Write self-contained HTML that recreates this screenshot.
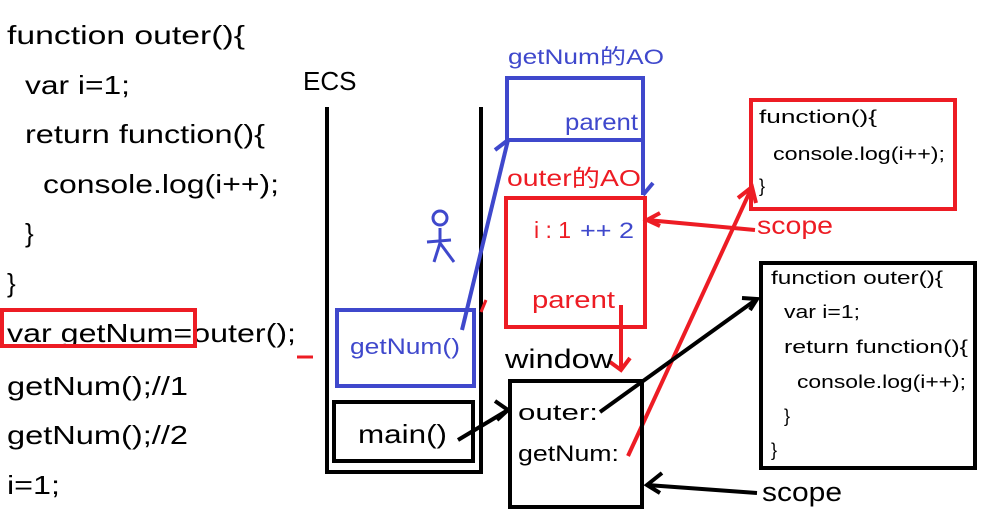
<!DOCTYPE html>
<html><head><meta charset="utf-8"><style>
html,body{margin:0;padding:0;background:#fff;width:1008px;height:516px;overflow:hidden}
svg{display:block}
text{font-family:"Liberation Sans","Noto Sans CJK SC",sans-serif}
</style></head><body>
<svg width="1008" height="516" viewBox="0 0 1008 516">
<g font-size="26" fill="#000" lengthAdjust="spacingAndGlyphs">
<text x="7" y="44" textLength="238" lengthAdjust="spacingAndGlyphs">function outer(){</text>
<text x="25" y="94" textLength="105" lengthAdjust="spacingAndGlyphs">var i=1;</text>
<text x="25" y="143" textLength="240" lengthAdjust="spacingAndGlyphs">return function(){</text>
<text x="43" y="193" textLength="236" lengthAdjust="spacingAndGlyphs">console.log(i++);</text>
<text x="25" y="242">}</text>
<text x="7" y="292">}</text>
<text x="7" y="342" textLength="289" lengthAdjust="spacingAndGlyphs">var getNum=outer();</text>
<text x="7" y="395" textLength="181" lengthAdjust="spacingAndGlyphs">getNum();//1</text>
<text x="7" y="444" textLength="181" lengthAdjust="spacingAndGlyphs">getNum();//2</text>
<text x="7" y="494" textLength="53" lengthAdjust="spacingAndGlyphs">i=1;</text>
</g>
<rect x="2" y="310" width="193" height="36" fill="none" stroke="#ed1c24" stroke-width="4"/>
<line x1="297" y1="357" x2="313" y2="357" stroke="#ed1c24" stroke-width="3"/>

<text x="303" y="90" font-size="26">ECS</text>
<path d="M327 107 V472 H481 V107" fill="none" stroke="#000" stroke-width="4"/>
<rect x="337" y="310" width="137" height="76" fill="none" stroke="#3f48cc" stroke-width="4"/>
<text x="350" y="354" font-size="22" fill="#3f48cc" textLength="110" lengthAdjust="spacingAndGlyphs">getNum()</text>
<rect x="334" y="402" width="139" height="59" fill="none" stroke="#000" stroke-width="4"/>
<text x="358" y="443" font-size="26" textLength="89" lengthAdjust="spacingAndGlyphs">main()</text>

<g stroke="#3f48cc" stroke-width="3" fill="none">
<circle cx="440" cy="218" r="7"/>
<line x1="427" y1="242" x2="451" y2="240"/>
<line x1="440" y1="228" x2="440" y2="243"/>
<line x1="440" y1="243" x2="434" y2="262"/>
<line x1="440" y1="243" x2="454" y2="262"/>
</g>

<g stroke="#3f48cc" stroke-width="4" fill="none">
<line x1="462" y1="330" x2="508" y2="140"/>
<line x1="508" y1="140" x2="495" y2="150"/>
<line x1="643" y1="140" x2="643" y2="195"/>
<line x1="643" y1="195" x2="653" y2="183"/>
</g>
<text x="508" y="64" font-size="21" fill="#3f48cc" textLength="156" lengthAdjust="spacingAndGlyphs">getNum的AO</text>
<rect x="507" y="78" width="136" height="62" fill="none" stroke="#3f48cc" stroke-width="4"/>
<text x="565" y="130" font-size="23" fill="#3f48cc" textLength="73" lengthAdjust="spacingAndGlyphs">parent</text>

<text x="507" y="186" font-size="23" fill="#ed1c24" textLength="134" lengthAdjust="spacingAndGlyphs">outer的AO</text>
<rect x="506" y="198" width="139" height="129" fill="none" stroke="#ed1c24" stroke-width="4"/>
<text x="534" y="238" font-size="23" fill="#ed1c24">i : 1</text>
<text x="580" y="238" font-size="22" fill="#3f48cc" textLength="54" lengthAdjust="spacingAndGlyphs">++ 2</text>
<text x="532" y="308" font-size="24" fill="#ed1c24" textLength="83" lengthAdjust="spacingAndGlyphs">parent</text>
<line x1="481" y1="312" x2="486" y2="300" stroke="#ed1c24" stroke-width="3"/>
<g stroke="#ed1c24" stroke-width="4" fill="none">
<line x1="621" y1="305" x2="621" y2="370"/>
<path d="M610 362 L621 370 L630 358"/>
<line x1="628" y1="456" x2="752" y2="187"/>
<path d="M738 198 L752 187 L756 203"/>
<line x1="755" y1="230" x2="647" y2="220"/>
<path d="M660 213 L647 220 L660 226"/>
</g>

<text x="505" y="368" font-size="27" textLength="108" lengthAdjust="spacingAndGlyphs">window</text>
<rect x="510" y="381" width="132" height="126" fill="none" stroke="#000" stroke-width="4"/>
<text x="518" y="420" font-size="22" textLength="80" lengthAdjust="spacingAndGlyphs">outer:</text>
<text x="518" y="461" font-size="22" textLength="101" lengthAdjust="spacingAndGlyphs">getNum:</text>
<g stroke="#000" stroke-width="4" fill="none">
<line x1="458" y1="440" x2="508" y2="410"/>
<path d="M495 401 L508 410 L497 420"/>
<line x1="600" y1="412" x2="757" y2="299"/>
<path d="M742 298 L757 299 L750 310"/>
<line x1="757" y1="493" x2="647" y2="485"/>
<path d="M662 473 L647 485 L660 493"/>
</g>

<rect x="751" y="100" width="204" height="109" fill="none" stroke="#ed1c24" stroke-width="4"/>
<g font-size="18"><text x="759" y="123" textLength="118" lengthAdjust="spacingAndGlyphs">function(){</text><text x="773" y="160" textLength="172" lengthAdjust="spacingAndGlyphs">console.log(i++);</text><text x="759" y="192">}</text></g>
<text x="757" y="234" font-size="25" fill="#ed1c24" textLength="76" lengthAdjust="spacingAndGlyphs">scope</text>

<rect x="761" y="263" width="214" height="205" fill="none" stroke="#000" stroke-width="4"/>
<g font-size="18"><text x="771" y="284" textLength="172" lengthAdjust="spacingAndGlyphs">function outer(){</text><text x="784" y="318" textLength="76" lengthAdjust="spacingAndGlyphs">var i=1;</text><text x="784" y="353" textLength="184" lengthAdjust="spacingAndGlyphs">return function(){</text><text x="797" y="388" textLength="169" lengthAdjust="spacingAndGlyphs">console.log(i++);</text><text x="784" y="422">}</text><text x="771" y="456">}</text></g>
<text x="762" y="501" font-size="27" textLength="80" lengthAdjust="spacingAndGlyphs">scope</text>
</svg>
</body></html>
